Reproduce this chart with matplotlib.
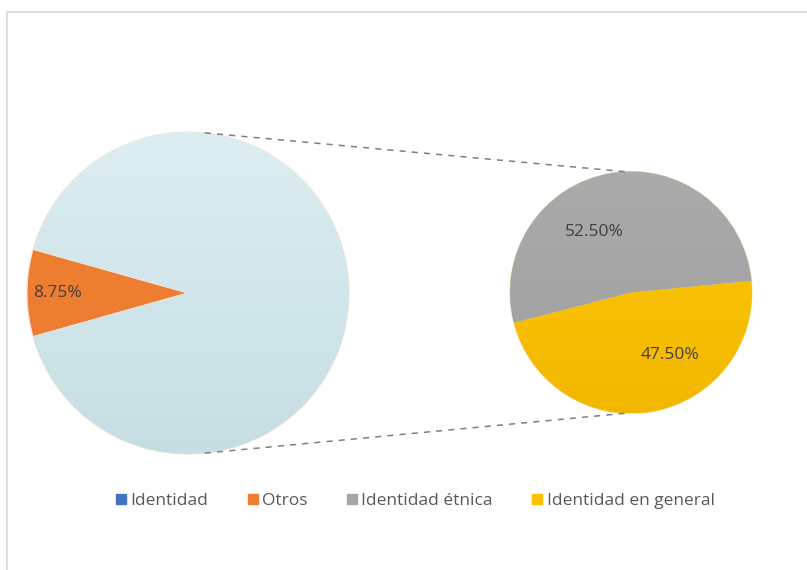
import numpy as np
import matplotlib.pyplot as plt
from matplotlib.patches import Rectangle
from matplotlib.lines import Line2D
from matplotlib.colors import LinearSegmentedColormap

plt.rcParams['font.family'] = ['Open Sans', 'DejaVu Sans']

# main pie: "Identidad" split off into the secondary pie, "Otros" kept
main_labels = ["Otros", "Identidad"]
main_values = [8.75, 91.25]
main_colors = ["#ED7D31", "#D4E9EE"]

# secondary pie: breakdown of "Identidad"
sub_labels = ["Identidad étnica", "Identidad en general"]
sub_values = [52.50, 47.50]
sub_colors = ["#A5A5A5", "#FFC000"]

legend_labels = ["Identidad", "Otros", "Identidad étnica", "Identidad en general"]
legend_colors = ["#4472C4", "#ED7D31", "#A5A5A5", "#FFC000"]

W, H = 807, 570
fig = plt.figure(figsize=(W / 100, H / 100), dpi=100)
ax = fig.add_axes([0, 0, 1, 1])

# chart frame
ax.add_patch(Rectangle((7, -20), W + 20, H - 12 + 20, fill=False,
                       edgecolor="#D9D9D9", linewidth=1.2))

c1, r1 = (188, 277), 161
c2, r2 = (631, 277.5), 121
grad = np.linspace(0, 1, 256).reshape(-1, 1)


def shade(wedge, center, radius, lo, hi):
    # soft vertical gradient inside one wedge
    cmap = LinearSegmentedColormap.from_list("s", [lo, hi])
    im = ax.imshow(grad, cmap=cmap,
                   extent=(center[0] - radius, center[0] + radius,
                           center[1] - radius, center[1] + radius),
                   origin="lower", aspect="auto", zorder=1.5)
    im.set_clip_path(wedge)


# "Otros" wedge centred on the left side of the main pie
start1 = 180 - main_values[0] / 100 * 360 / 2
wedges1, _ = ax.pie(main_values, colors=main_colors, startangle=start1,
                    center=c1, radius=r1, counterclock=True,
                    wedgeprops=dict(linewidth=0.8, edgecolor="#FBE3D3"),
                    frame=True)
shade(wedges1[1], c1, r1, "#C6DEE3", "#DDEEF2")

wedges2, _ = ax.pie(sub_values, colors=sub_colors, startangle=5.5,
                    center=c2, radius=r2, counterclock=True,
                    wedgeprops=dict(linewidth=0.8, edgecolor="#F2E3B0"),
                    frame=True)
shade(wedges2[1], c2, r2, "#F2B800", "#FFC90A")
shade(wedges2[0], c2, r2, "#9E9E9E", "#ABABAB")

ax.set_xlim(0, W)
ax.set_ylim(0, H)
ax.set_aspect("equal")
ax.axis("off")

# dashed connectors between the two pies
for a1, a2 in [(84, 93), (-84, -93)]:
    p1 = (c1[0] + r1 * np.cos(np.radians(a1)), c1[1] + r1 * np.sin(np.radians(a1)))
    p2 = (c2[0] + r2 * np.cos(np.radians(a2)), c2[1] + r2 * np.sin(np.radians(a2)))
    ax.plot([p1[0], p2[0]], [p1[1], p2[1]], ls=(0, (4, 4)), color="#7F7F7F",
            lw=1.1, zorder=3)

lab_kw = dict(fontsize=12.5, color="#404040", ha="center", va="center", zorder=4)
ax.text(c1[0] - 0.81 * r1, c1[1], f"{main_values[0]:.2f}%", **lab_kw)
ax.text(c2[0] - 0.30 * r2, c2[1] + 0.5 * r2, f"{sub_values[0]:.2f}%", **lab_kw)
ax.text(c2[0] + 0.32 * r2, c2[1] - 0.52 * r2, f"{sub_values[1]:.2f}%", **lab_kw)

handles = [Line2D([], [], marker="s", ls="none", markersize=6.5,
                  markerfacecolor=c, markeredgecolor=c) for c in legend_colors]
fig.legend(handles, legend_labels, loc="center", bbox_to_anchor=(0.515, 0.121),
           ncol=4, frameon=False, fontsize=12.5, handlelength=0.5,
           handletextpad=0.3, columnspacing=2.3, labelcolor="#595959")

fig.savefig("out.png", dpi=100)
